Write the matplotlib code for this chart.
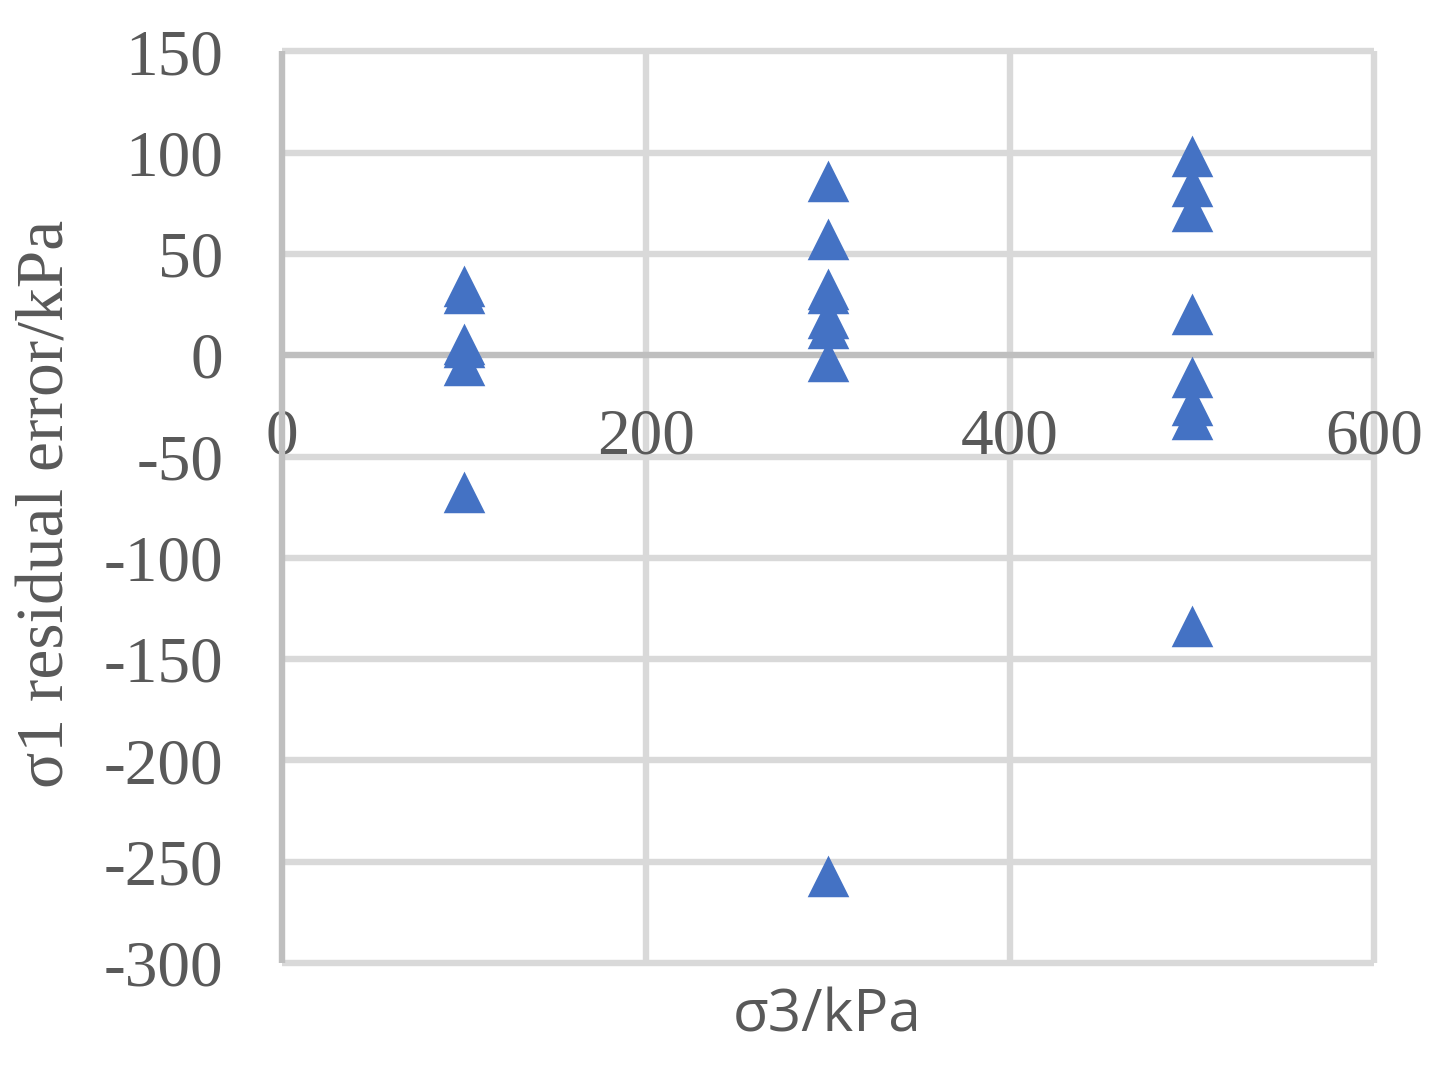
import matplotlib
matplotlib.use("Agg")
import matplotlib.pyplot as plt

# sigma3 levels and the residual errors (kPa)
sigma3_100 = [100, 100, 100, 100, 100, 100]
resid_100 = [33.9, 30.1, 5.1, 3.5, -5.1, -67.8]

sigma3_300 = [300, 300, 300, 300, 300, 300, 300, 300]
resid_300 = [85.7, 57.1, 32.2, 30.1, 17.8, 13.0, -3.2, -257.4]

sigma3_500 = [500, 500, 500, 500, 500, 500, 500, 500]
resid_500 = [98.0, 82.9, 70.9, 20.0, -11.4, -24.9, -31.9, -134.4]

x_ticks = [0, 200, 400, 600]
y_ticks = [150, 100, 50, 0, -50, -100, -150, -200, -250, -300]

GRID = '#d9d9d9'
AXIS = '#bfbfbf'
TEXT = '#595959'
BLUE = '#4472C4'
SERIF = ['Liberation Serif', 'DejaVu Serif']

fig = plt.figure(figsize=(14.5, 10.74), dpi=100)
ax = fig.add_axes([0.19414, 0.10335, 0.75379, 0.84888])

ax.set_xlim(0, 600)
ax.set_ylim(-300, 150)

# gridlines (drawn by hand so the edge lines are not clipped)
for yv in y_ticks:
    ax.axhline(yv, color=AXIS if yv == 0 else GRID, lw=4.6,
               zorder=2 if yv == 0 else 1, clip_on=False, solid_capstyle='butt')
for xv in x_ticks[1:]:
    ax.axvline(xv, color=GRID, lw=4.6, zorder=1, clip_on=False, solid_capstyle='butt')
ax.axvline(0, color=AXIS, lw=4.6, zorder=2, clip_on=False, solid_capstyle='butt')

for xs, ys in [(sigma3_100, resid_100), (sigma3_300, resid_300), (sigma3_500, resid_500)]:
    ax.plot(xs, ys, linestyle='none', marker='^', markersize=26, color=BLUE,
            markeredgecolor=BLUE, markeredgewidth=2.5, zorder=5, clip_on=False)

for s in ax.spines.values():
    s.set_visible(False)
ax.spines['bottom'].set_position(('data', 0))

ax.set_xticks(x_ticks)
ax.set_yticks(y_ticks)
ax.set_xticklabels([str(v) for v in x_ticks])
ax.set_yticklabels([str(v) for v in y_ticks])
ax.tick_params(axis='x', length=0, pad=38, labelsize=47, labelcolor=TEXT)
ax.tick_params(axis='y', length=0, pad=42, labelsize=47, labelcolor=TEXT)
for lab in ax.get_xticklabels() + ax.get_yticklabels():
    lab.set_family(SERIF)

fig.text(0.5707, 1 - 1016 / 1074, 'σ3/kPa', ha='center', va='center',
         fontsize=42, color=TEXT, family=['Open Sans', 'DejaVu Sans'])
fig.text(47 / 1450, 1 - 504 / 1074, 'σ1 residual error/kPa', ha='center', va='center',
         rotation=90, fontsize=48.5, color=TEXT, family=SERIF)

fig.savefig('out.png', dpi=100)
